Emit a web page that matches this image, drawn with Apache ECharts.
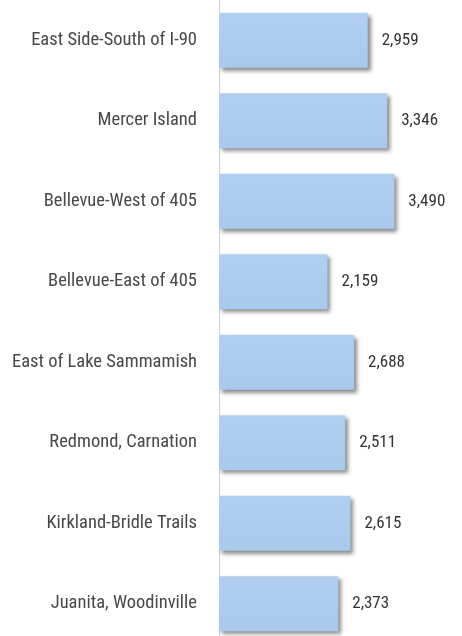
<!DOCTYPE html>
<html><head><meta charset="utf-8">
<script src="https://cdn.jsdelivr.net/npm/echarts@6/dist/echarts.min.js"></script>
<style>html,body{margin:0;padding:0;background:#fff}#c{width:462px;height:636px}</style>
</head><body><div id="c"></div>
<script>
const categories = ["East Side-South of I-90","Mercer Island","Bellevue-West of 405","Bellevue-East of 405","East of Lake Sammamish","Redmond, Carnation","Kirkland-Bridle Trails","Juanita, Woodinville"];
const values = [2959,3346,3490,2159,2688,2511,2615,2373];
const chart = echarts.init(document.getElementById('c'));
const font = "'Liberation Sans Narrow','Roboto Condensed','Noto Sans',sans-serif";
chart.setOption({
  animation:false,
  grid:{left:219,top:0,right:42,bottom:-8,containLabel:false,outerBoundsMode:'none'},
  xAxis:{type:'value',min:0,max:4000,show:false},
  yAxis:{type:'category',data:categories,inverse:true,
    axisLine:{lineStyle:{color:'#cfcfcf',width:1}},
    axisTick:{show:false},
    axisLabel:{margin:22,fontSize:18.5,color:'#484848',fontFamily:font}},
  series:[{type:'bar',data:values,barWidth:55,
    itemStyle:{color:new echarts.graphic.LinearGradient(0,0,0,1,[{offset:0,color:'#b0cff0'},{offset:1,color:'#a9c9ed'}]),
      shadowColor:'rgba(0,0,0,0.45)',shadowBlur:4,shadowOffsetX:3,shadowOffsetY:3},
    label:{show:true,position:'right',distance:14,fontSize:17,color:'#333',fontFamily:font,
      formatter:p=>p.value.toLocaleString('en-US')}}]
});
</script></body></html>
